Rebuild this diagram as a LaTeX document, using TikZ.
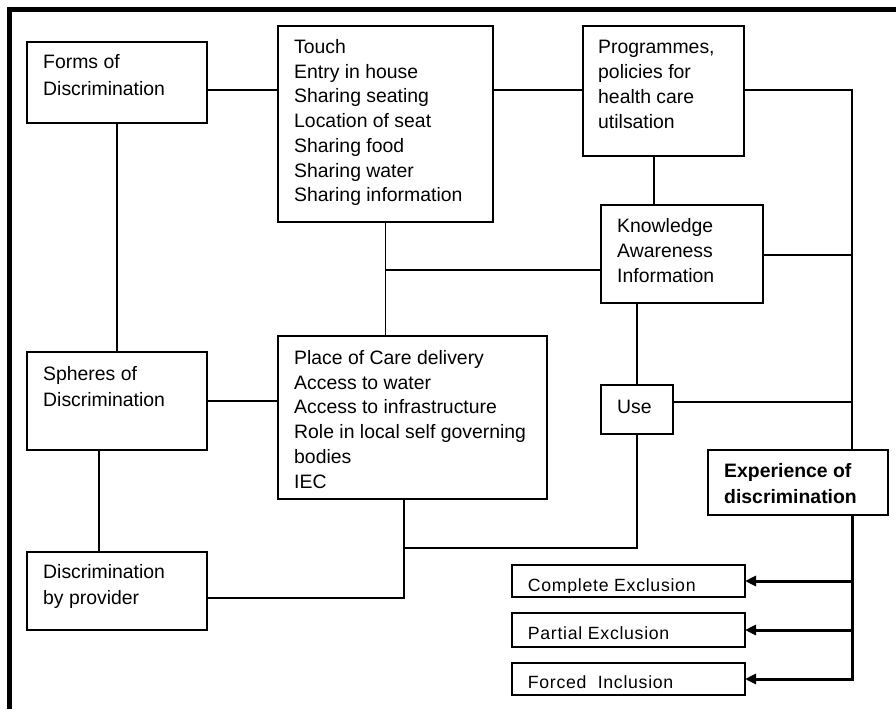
\documentclass[tikz,border=0pt]{standalone}
\usepackage{fontspec}
\setmainfont{Liberation Sans}
\newfontfamily\outfont[LetterSpace=4.0]{Liberation Sans}
\usetikzlibrary{arrows.meta,calc}
\tikzset{
  box/.style={draw, line width=1.4pt, inner sep=0pt, outer sep=0pt, anchor=north west},
  txt/.style={inner sep=0pt, anchor=base west, align=left, font=\fontsize{19.4}{24.75}\selectfont},
  txtwide/.style={txt, font=\fontsize{19.4}{26.5}\selectfont},
  txtbold/.style={txt, font=\bfseries\fontsize{19.4}{26}\selectfont},
  outtxt/.style={inner sep=0pt, anchor=base west, font=\outfont\fontsize{17.7}{20}\selectfont},
  conn/.style={line width=1.4pt},
  thickconn/.style={line width=3pt},
  arr/.style={thickconn, -{Triangle[length=11pt,width=10pt]}},
  frame/.style={line width=5pt}
}
\begin{document}
\begin{tikzpicture}[x=1pt,y=-1pt]
\path[fill=white] (0,0) rectangle (896,709);
\useasboundingbox (0,0) rectangle (896,709);
\draw[frame] (9.5,709) -- (9.5,9.5) -- (896,9.5);

% boxes
\node[box, minimum width=180pt, minimum height=81pt] (forms) at (27,42) {};
\node[box, minimum width=215pt, minimum height=196pt] (touch) at (278,26) {};
\node[box, minimum width=161pt, minimum height=130pt] (prog) at (583,26) {};
\node[box, minimum width=162pt, minimum height=98pt] (know) at (601,205) {};
\node[box, minimum width=269pt, minimum height=163pt] (place) at (278,336) {};
\node[box, minimum width=72pt, minimum height=49pt] (use) at (601,385) {};
\node[box, minimum width=180pt, minimum height=98pt] (spheres) at (27,352) {};
\node[box, minimum width=180pt, minimum height=78pt] (provider) at (27,552) {};
\node[box, minimum width=180pt, minimum height=65pt] (exper) at (708,450) {};
\node[box, minimum width=233pt, minimum height=32pt] (complete) at (512,565) {};
\node[box, minimum width=233pt, minimum height=34pt] (partial) at (512,613) {};
\node[box, minimum width=233pt, minimum height=32pt] (forced) at (512,663) {};

% texts (anchored at the baseline of their last line)
\node[txtwide] (formsT) at (43,95.5) {Forms of\\Discrimination};
\node[txt] (touchT) at (294,201.8) {Touch\\Entry in house\\Sharing seating\\Location of seat\\Sharing food\\Sharing water\\Sharing information};
\node[txt] (progT) at (598,128) {Programmes,\\policies for\\health care\\utilsation};
\node[txt] (knowT) at (617,282) {Knowledge\\Awareness\\Information};
\node[txt] (placeT) at (294,488) {Place of Care delivery\\Access to water\\Access to infrastructure\\Role in local self governing\\bodies\\IEC};
\node[txt] (useT) at (617,413.3) {Use};
\node[txtwide] (spheresT) at (43,406.5) {Spheres of\\Discrimination};
\node[txtwide] (providerT) at (43,604.5) {Discrimination\\by provider};
\node[txtbold] (experT) at (724,503.3) {Experience of\\discrimination};

\coordinate (clipb) at (0,592.5);
\begin{scope}
\clip (complete.north west) rectangle (complete.east |- clipb);
\node[outtxt] (completeT) at (527.7,591) {Complete Exclusion};
\end{scope}
\node[outtxt] (partialT) at (527.7,639) {Partial Exclusion};
\node[outtxt] (forcedT) at (527.7,688.3) {Forced~~Inclusion};

% helper coordinates
\coordinate (x852) at (852,0);
\coordinate (x654) at (654,0);
\coordinate (x404) at (404,0);
\coordinate (x99) at (99,0);
\coordinate (y90) at (0,90);
\coordinate (y255) at (0,255);
\coordinate (y270) at (0,270);
\coordinate (y402) at (0,402);
\coordinate (y548) at (0,548);
\coordinate (y598) at (0,598);

% connectors
\draw[conn] (forms.east |- y90) -- (touch.west |- y90);
\draw[conn] (touch.east |- y90) -- (prog.west |- y90);
\draw[conn] (prog.east |- y90) -| (exper.north -| x852);
\draw[conn] (know.east |- y255) -- (x852 |- y255);
\draw[conn] (use.east |- y402) -- (x852 |- y402);
\draw[conn] (prog.south -| x654) -- (know.north -| x654);
\draw[conn] (touch.south) -- (touch.south |- place.north);
\draw[conn] (know.west |- y270) -- (touch.south |- y270);
\draw[conn] (use.north |- know.south) -- (use.north);
\draw[conn] (use.south) |- (x404 |- y548);
\draw[conn] (place.south -| x404) |- (provider.east |- y598);
\draw[conn] (spheres.east) -- (place.west |- spheres.east);
\draw[conn] (forms.south) -- (spheres.north);
\draw[conn] (spheres.south -| x99) -- (provider.north -| x99);

\draw[arr] (exper.south -| x852) |- (forced.east);
\draw[arr] (x852 |- complete.east) -- (complete.east);
\draw[arr] (x852 |- partial.east) -- (partial.east);
\end{tikzpicture}
\end{document}
